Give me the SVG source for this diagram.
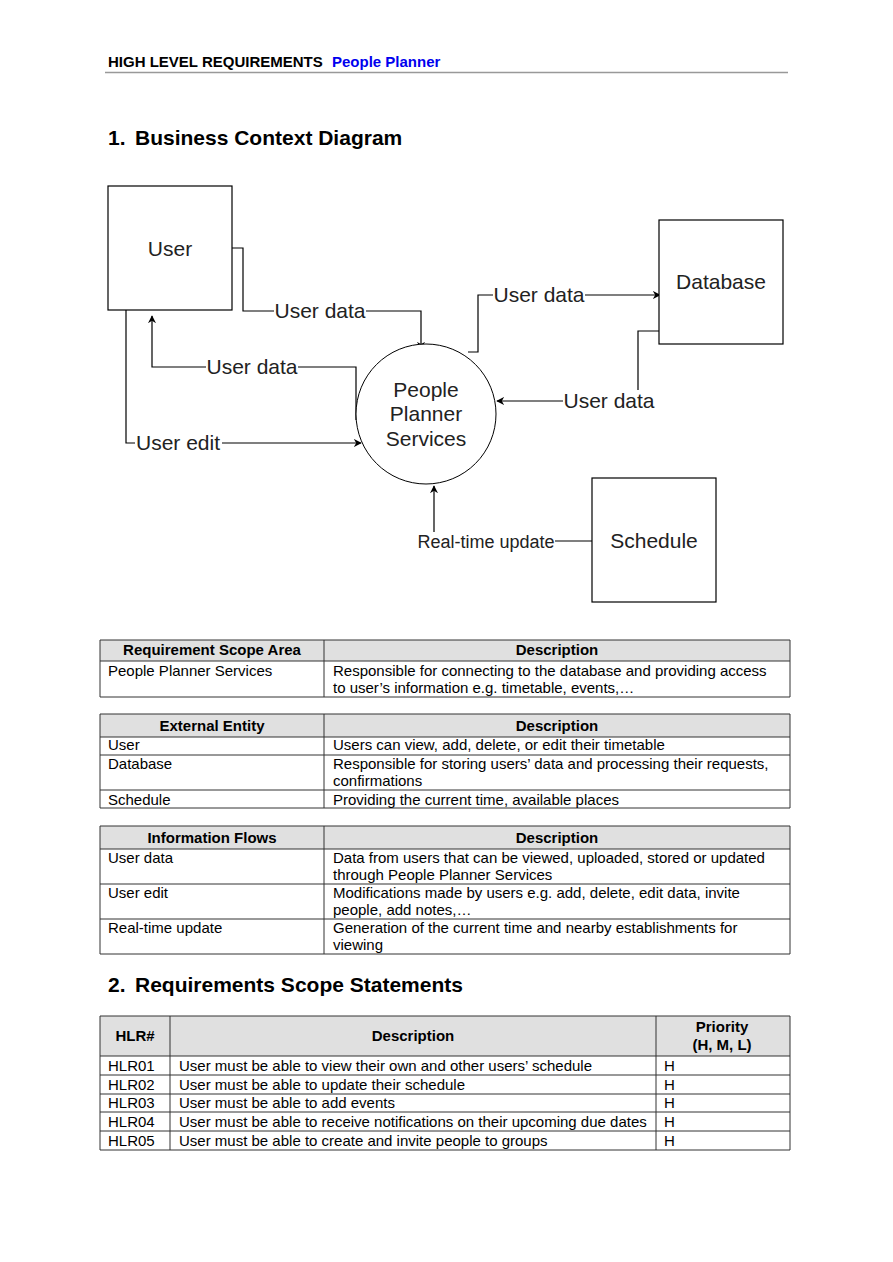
<svg xmlns="http://www.w3.org/2000/svg" width="893" height="1262" viewBox="0 0 893 1262">
<style>
text{font-family:"Liberation Sans",Arial,sans-serif;fill:#000}
.hd{font-size:15px;font-weight:bold}
.h1{font-size:21px;font-weight:bold}
.nt{font-size:21px;fill:#222;text-anchor:middle}
.lb{font-size:21px;fill:#222;text-anchor:middle}
.box{fill:#fff;stroke:#000;stroke-width:1.2}
.cn{fill:none;stroke:#000;stroke-width:1.2}
.th{font-size:15px;font-weight:bold;text-anchor:middle}
.td{font-size:15px}
.hrow{fill:#e0e0e0;stroke:none}
.tl{stroke:#333;stroke-width:1;fill:none}
</style>
<defs>
<marker id="arr" viewBox="0 0 10 10" refX="9" refY="5" markerWidth="8" markerHeight="8" orient="auto" markerUnits="userSpaceOnUse"><path d="M0,0 L10,5 L0,10 L3,5 z" fill="#000"/></marker>
</defs>
<rect width="893" height="1262" fill="#fff"/>
<g id="header">
<text x="108" y="67" class="hd">HIGH LEVEL REQUIREMENTS</text>
<text x="332" y="67" class="hd" style="fill:#0000ee">People Planner</text>
<line x1="105" y1="72.5" x2="788" y2="72.5" stroke="#999" stroke-width="1.5"/>
<text x="108" y="145" class="h1">1.</text>
<text x="135" y="145" class="h1">Business Context Diagram</text>
</g>
<g id="connectors">
<path class="cn" d="M232,248 H243 V311 H421 V349" marker-end="url(#arr)"/>
<path class="cn" d="M356,420 V367 H152 V316" marker-end="url(#arr)"/>
<path class="cn" d="M126,310 V443 H361" marker-end="url(#arr)" stroke-width="1.6"/>
<path class="cn" d="M468,352 H478 V295 H660" marker-end="url(#arr)"/>
<path class="cn" d="M659,331 H638 V401 H497" marker-end="url(#arr)"/>
<path class="cn" d="M592,541 H434 V486" marker-end="url(#arr)"/>
<rect x="274" y="300" width="92" height="22" fill="#fff"/>
<text x="320" y="318" class="lb">User data</text>
<rect x="206" y="356" width="92" height="22" fill="#fff"/>
<text x="252" y="374" class="lb">User data</text>
<rect x="135" y="432" width="87" height="22" fill="#fff"/>
<text x="178" y="450" class="lb">User edit</text>
<rect x="493" y="284" width="92" height="22" fill="#fff"/>
<text x="539" y="302" class="lb">User data</text>
<rect x="563" y="390" width="92" height="22" fill="#fff"/>
<text x="609" y="408" class="lb">User data</text>
<rect x="417" y="532" width="138" height="20" fill="#fff"/>
<text x="486" y="548" class="lb" style="font-size:18px">Real-time update</text>
</g>
<g id="user">
<rect x="108" y="186" width="124" height="124" class="box"/>
<text x="170" y="256" class="nt">User</text>
</g>
<g id="database">
<rect x="659" y="220" width="124" height="124" class="box"/>
<text x="721" y="289" class="nt">Database</text>
</g>
<g id="schedule">
<rect x="592" y="478" width="124" height="124" class="box" stroke-width="1.5"/>
<text x="654" y="548" class="nt">Schedule</text>
</g>
<g id="pps">
<circle cx="426" cy="414" r="70" fill="#fff" stroke="#000" stroke-width="1"/>
<text x="426" y="397" class="nt">People</text>
<text x="426" y="421" class="nt">Planner</text>
<text x="426" y="446" class="nt">Services</text>
</g>
<g id="table1">
<rect x="100" y="640" width="690" height="21" class="hrow"/>
<path class="tl" d="M100,640 H790 V697 H100 Z M100,661 H790 M324,640 V697"/>
<text x="212" y="655" class="th">Requirement Scope Area</text>
<text x="557" y="655" class="th">Description</text>
<text x="108" y="676" class="td">People Planner Services</text>
<text x="333" y="676" class="td">Responsible for connecting to the database and providing access</text>
<text x="333" y="693" class="td">to user’s information e.g. timetable, events,…</text>
</g>
<g id="table2">
<rect x="100" y="714" width="690" height="23" class="hrow"/>
<path class="tl" d="M100,714 H790 V808 H100 Z M100,737 H790 M100,755 H790 M100,790 H790 M324,714 V808"/>
<text x="212" y="731" class="th">External Entity</text>
<text x="557" y="731" class="th">Description</text>
<text x="108" y="750" class="td">User</text>
<text x="333" y="750" class="td">Users can view, add, delete, or edit their timetable</text>
<text x="108" y="769" class="td">Database</text>
<text x="333" y="769" class="td">Responsible for storing users’ data and processing their requests,</text>
<text x="333" y="786" class="td">confirmations</text>
<text x="108" y="805" class="td">Schedule</text>
<text x="333" y="805" class="td">Providing the current time, available places</text>
</g>
<g id="table3">
<rect x="100" y="826" width="690" height="23" class="hrow"/>
<path class="tl" d="M100,826 H790 V954 H100 Z M100,849 H790 M100,884 H790 M100,919 H790 M324,826 V954"/>
<text x="212" y="843" class="th">Information Flows</text>
<text x="557" y="843" class="th">Description</text>
<text x="108" y="863" class="td">User data</text>
<text x="333" y="863" class="td">Data from users that can be viewed, uploaded, stored or updated</text>
<text x="333" y="880" class="td">through People Planner Services</text>
<text x="108" y="898" class="td">User edit</text>
<text x="333" y="898" class="td">Modifications made by users e.g. add, delete, edit data, invite</text>
<text x="333" y="915" class="td">people, add notes,…</text>
<text x="108" y="933" class="td">Real-time update</text>
<text x="333" y="933" class="td">Generation of the current time and nearby establishments for</text>
<text x="333" y="950" class="td">viewing</text>
</g>
<g id="section2">
<text x="108" y="992" class="h1">2.</text>
<text x="135" y="992" class="h1">Requirements Scope Statements</text>
</g>
<g id="table4">
<rect x="100" y="1016" width="690" height="40" class="hrow"/>
<path class="tl" d="M100,1016 H790 V1150 H100 Z M100,1056 H790 M100,1075 H790 M100,1094 H790 M100,1112 H790 M100,1131 H790 M170,1016 V1150 M656,1016 V1150"/>
<text x="135" y="1041" class="th">HLR#</text>
<text x="413" y="1041" class="th">Description</text>
<text x="722" y="1032" class="th">Priority</text>
<text x="722" y="1050" class="th">(H, M, L)</text>
<text x="108" y="1071" class="td">HLR01</text>
<text x="179" y="1071" class="td">User must be able to view their own and other users’ schedule</text>
<text x="664" y="1071" class="td">H</text>
<text x="108" y="1090" class="td">HLR02</text>
<text x="179" y="1090" class="td">User must be able to update their schedule</text>
<text x="664" y="1090" class="td">H</text>
<text x="108" y="1108" class="td">HLR03</text>
<text x="179" y="1108" class="td">User must be able to add events</text>
<text x="664" y="1108" class="td">H</text>
<text x="108" y="1127" class="td">HLR04</text>
<text x="179" y="1127" class="td">User must be able to receive notifications on their upcoming due dates</text>
<text x="664" y="1127" class="td">H</text>
<text x="108" y="1146" class="td">HLR05</text>
<text x="179" y="1146" class="td">User must be able to create and invite people to groups</text>
<text x="664" y="1146" class="td">H</text>
</g>
</svg>
